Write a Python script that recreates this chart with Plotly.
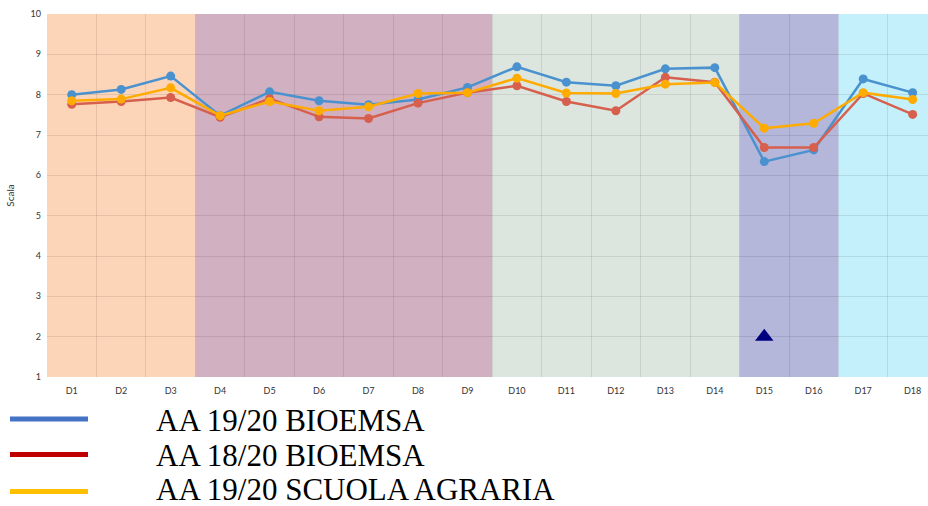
import plotly.graph_objects as go

categories = [f"D{i}" for i in range(1, 19)]
bioemsa_1920 = [8.00, 8.13, 8.46, 7.48, 8.07, 7.85, 7.75, 7.88, 8.18, 8.69, 8.31, 8.22, 8.64, 8.67, 6.34, 6.63, 8.39, 8.05]
bioemsa_1820 = [7.76, 7.83, 7.93, 7.44, 7.90, 7.45, 7.41, 7.79, 8.05, 8.22, 7.83, 7.60, 8.43, 8.31, 6.69, 6.69, 8.03, 7.51]
agraria_1920 = [7.85, 7.89, 8.17, 7.48, 7.83, 7.60, 7.70, 8.03, 8.05, 8.41, 8.04, 8.03, 8.26, 8.30, 7.17, 7.29, 8.05, 7.88]
marker_cat = ["D15"]
marker_val = [2]

legend_names = ["AA 19/20 BIOEMSA", "AA 18/20 BIOEMSA", "AA 19/20 SCUOLA AGRARIA"]
legend_colors = ["#4472C4", "#C00000", "#FFC000"]

bands = [  # (first index, last index, colour)
    (0, 2, "#FCD5B9"),
    (3, 8, "#D1B1C1"),
    (9, 13, "#DCE6DE"),
    (14, 15, "#B4B6DA"),
    (16, 17, "#C4F0FC"),
]

fig = go.Figure()

series = [
    (bioemsa_1920, "#4A92CF"),
    (bioemsa_1820, "#D6604D"),
    (agraria_1920, "#FFAB00"),
]
for (vals, col), name in zip(series, legend_names):
    fig.add_trace(go.Scatter(x=categories, y=vals, mode="lines+markers", name=name,
                             line=dict(color=col, width=2.5),
                             marker=dict(color=col, size=9)))

fig.add_trace(go.Scatter(x=marker_cat, y=marker_val, mode="markers",
                         marker=dict(symbol="triangle-up", size=16, color="#00007F"),
                         showlegend=False))

for a, b, col in bands:
    fig.add_shape(type="rect", xref="x", yref="paper", x0=a - 0.5, x1=b + 0.5,
                  y0=0, y1=1, fillcolor=col, line=dict(width=0), layer="below")

# custom legend
W, H = 928, 506
L, R, T, B = 47, 0, 14, 129
pw, ph = W - L - R, H - T - B
def px(x):
    return (x - L) / pw
def py(y):
    return (H - B - y) / ph

line_y = [419, 454.5, 491.5]
text_y = [420, 455.5, 489.5]
for i, (name, col) in enumerate(zip(legend_names, legend_colors)):
    yy = line_y[i]
    fig.add_shape(type="line", xref="paper", yref="paper", x0=px(10), x1=px(88),
                  y0=py(yy), y1=py(yy), line=dict(color=col, width=5))
    fig.add_annotation(xref="paper", yref="paper", x=px(154), y=py(text_y[i]),
                       text=name, showarrow=False, xanchor="left", yanchor="middle",
                       font=dict(family="Liberation Serif", size=31, color="#000000"))

fig.update_layout(
    width=W, height=H,
    margin=dict(l=L, r=R, t=T, b=B),
    paper_bgcolor="white", plot_bgcolor="white",
    showlegend=False,
    font=dict(family="Lato", size=9, color="#444444"),
    xaxis=dict(type="category", range=[-0.5, 17.31], tickson="boundaries",
               showgrid=True, gridcolor="rgba(0,0,0,0.09)", gridwidth=1,
               ticks="", tickfont=dict(size=9, color="#333333"), showline=False,
               zeroline=False, ticklabelstandoff=7),
    yaxis=dict(range=[1, 10], dtick=1, showgrid=True, gridcolor="rgba(0,0,0,0.09)",
               ticks="", zeroline=False, tickfont=dict(size=9, color="#333333"),
               ticklabelstandoff=5,
               title=dict(text="Scala", font=dict(size=10, color="#333333"), standoff=14)),
)

fig.write_html("out.html", config={"displayModeBar": False},
               post_script="document.body.style.margin='0';document.body.style.overflow='hidden';")
